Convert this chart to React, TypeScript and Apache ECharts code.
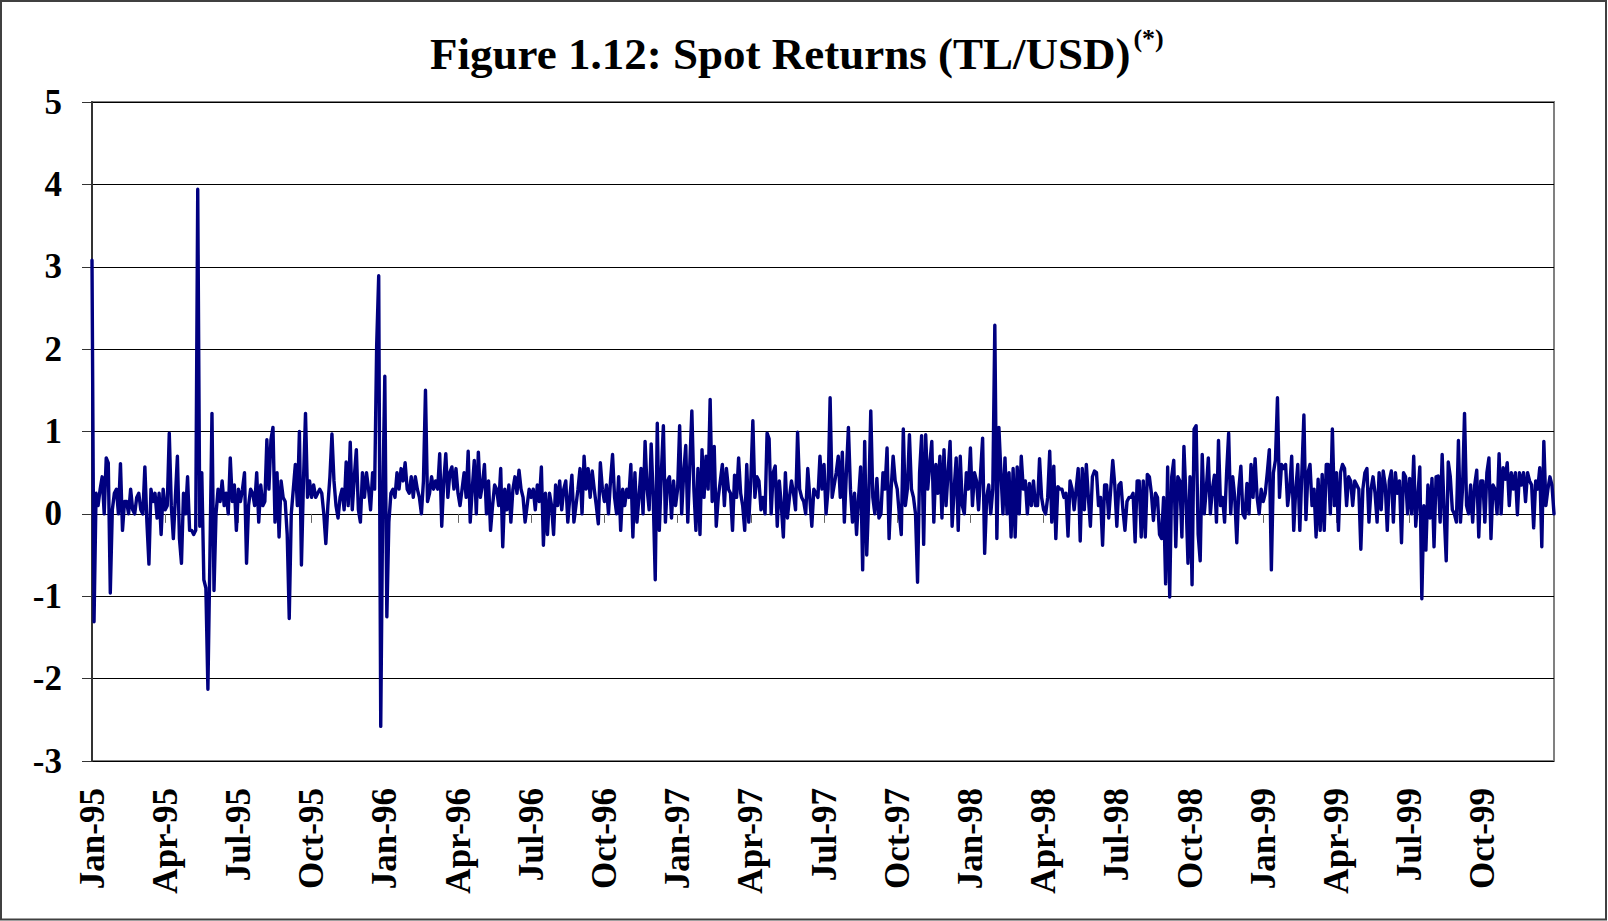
import React, { useEffect, useRef } from "react";
import * as echarts from "echarts";

const YEARS = [1995, 1996, 1997, 1998, 1999];
const MONTHS = ["Jan", "Feb", "Mar", "Apr", "May", "Jun", "Jul", "Aug", "Sep", "Oct", "Nov", "Dec"];
const POINTS_PER_MONTH = 12;

const R1995 = [
  3.08, -1.31, 0.25, 0.1, 0.3, 0.45, 0, 0.68, 0.62, -0.96, 0.05, 0.25,
  0.3, 0, 0.61, -0.2, 0.15, 0.15, 0, 0.3, 0.05, 0, 0.2, 0.25,
  0.05, 0, 0.57, -0.1, -0.61, 0.3, 0.15, 0.25, -0.05, 0.25, -0.25, 0.3,
  0.05, 0.1, 0.98, 0.1, -0.3, 0.2, 0.7, -0.3, -0.6, 0.25, 0, 0.45,
  -0.2, -0.2, -0.25, -0.2, 3.94, -0.15, 0.5, -0.8, -0.9, -2.13, -0.5, 1.22,
  -0.93, 0, 0.3, 0.15, 0.4, 0.1, 0.25, 0, 0.68, 0.15, 0.35, -0.2,
  0.3, 0.15, 0.3, 0.5, -0.6, 0.1, 0.3, 0.25, 0.1, 0.5, -0.1, 0.35,
  0.1, 0.15, 0.9, 0.3, 0.9, 1.05, -0.1, 0.5, -0.28, 0.4, 0.2, 0.15,
  -0.25, -1.27, 0, 0.3, 0.6, 0.1, 1.0, -0.62, 0.4, 1.22, 0.2, 0.4,
  0.2, 0.35, 0.2, 0.25, 0.3, 0.25, 0, -0.36, 0.1, 0.45, 0.97, 0.4,
  0.1, -0.05, 0.2, 0.3, 0.05, 0.63, 0.1, 0.87, 0.05, 0.45, 0.78, 0.05,
  -0.1, 0.5, 0.2, 0.5, 0.3, 0.05, 0.5, 0.3, 2.05, 2.89, -2.58, 0.2,
];

const R1996 = [
  1.67, -1.25, -0.1, 0.25, 0.3, 0.2, 0.5, 0.3, 0.55, 0.4, 0.62, 0.3,
  0.25, 0.45, 0.2, 0.45, 0.3, 0.2, 0, 0.4, 1.5, 0.15, 0.25, 0.45,
  0.3, 0.4, 0.3, 0.73, -0.15, 0.4, 0.73, 0.2, 0.5, 0.57, 0.3, 0.55,
  0.25, 0.1, 0.3, 0.5, 0.2, 0.76, -0.1, 0.3, 0.65, 0, 0.75, 0.2,
  0.35, 0.6, 0, 0.4, -0.2, 0.1, 0.35, 0.3, 0.1, 0.55, -0.4, 0.3,
  0.05, 0.35, -0.1, 0.3, 0.45, 0.25, 0.53, 0.3, 0.2, -0.1, 0.1, 0.3,
  0.2, 0.3, 0.05, 0.35, 0.15, 0.57, -0.38, 0.25, -0.25, 0.25, 0.1, -0.25,
  0.35, 0.1, 0.4, 0.05, 0.3, 0.4, -0.1, 0.2, 0.47, -0.1, 0.1, 0.3,
  0.55, 0, 0.7, 0.3, 0.55, 0.2, 0.52, 0.3, 0.1, -0.12, 0.62, 0.3,
  0.15, 0.35, 0, 0.4, 0.72, 0.2, 0, 0.45, -0.2, 0.3, 0.1, 0.3,
  0.2, 0.6, -0.28, 0.5, -0.1, 0.2, 0.55, 0, 0.88, 0.3, 0.05, 0.85,
  0.2, -0.8, 1.1, -0.2, 0.5, 1.07, -0.1, 0.4, 0.45, -0.05, 0.4, 0.1,
];

const R1997 = [
  0.3, 1.07, 0, 0.5, 0.83, -0.1, 0.6, 1.25, 0.3, -0.2, 0.55, -0.25,
  0.78, 0.2, 0.7, 0.3, 1.39, 0.15, 0.82, -0.15, 0.2, 0.4, 0.6, 0.1,
  0.55, 0.3, 0.25, -0.2, 0.47, 0.2, 0.68, 0.25, 0.1, -0.2, 0.6, -0.1,
  0.4, 1.13, 0.2, 0.45, 0.4, 0.05, 0.2, 0, 0.98, 0.91, 0, 0.5,
  0.58, -0.15, 0.4, 0.1, -0.28, 0.5, -0.05, 0.2, 0.4, 0.25, 0.05, 0.99,
  0.3, 0.2, 0.15, 0, 0.55, 0.2, -0.15, 0.3, 0.25, 0.2, 0.7, 0.3,
  0.6, 0, 0.3, 1.41, 0.2, 0.35, 0.5, 0.7, 0.2, 0.75, -0.1, 0.5,
  1.05, 0.3, -0.1, 0.25, -0.25, 0.2, 0.57, -0.68, 0.88, -0.5, 0.2, 1.25,
  0.2, 0, 0.43, -0.05, 0, 0.5, 0.3, 0.8, -0.3, 0.3, 0.7, 0.4,
  0.3, 0, -0.25, 1.03, 0.1, 0.3, 0.96, 0.3, 0.2, 0, -0.83, 0.5,
  0.95, -0.37, 0.96, 0.3, 0.6, 0.88, -0.1, 0.6, 0.25, 0.7, -0.05, 0.78,
  0.1, 0.5, 0.88, -0.15, 0.3, 0.68, -0.2, 0.7, 0.1, 0, 0.5, 0.3,
];

const R1998 = [
  0.8, 0.1, 0.5, 0.4, 0.05, 0.5, 0.92, -0.48, 0.2, 0.35, 0, 0.3,
  2.29, -0.3, 1.05, 0.5, 0, 0.68, 0, 0.5, -0.28, 0.55, -0.28, 0.57,
  0, 0.7, 0.3, 0.4, 0, 0.37, 0.1, 0.4, 0.1, 0.1, 0.67, 0.2,
  0.05, 0, 0.2, 0.76, -0.1, 0.58, -0.3, 0.33, 0.3, 0.3, 0.2, 0.25,
  -0.27, 0.4, 0.3, 0.05, 0.3, 0.55, -0.33, 0.55, 0.05, 0.6, 0.2, -0.15,
  0.45, 0.52, 0.5, 0.1, 0.2, -0.38, 0.35, 0.35, -0.05, 0.3, 0.65, 0.35,
  -0.15, 0.35, 0.38, 0.05, -0.2, 0.15, 0.2, 0.2, 0.25, -0.34, 0.4, 0.4,
  -0.28, 0.4, -0.28, 0.48, 0.45, 0.25, -0.08, 0.25, 0.2, -0.25, -0.3, 0.2,
  -0.85, 0.57, -1.01, 0.45, 0.65, -0.4, 0.45, 0.4, -0.28, 0.82, 0.2, -0.6,
  0.45, -0.86, 1.03, 1.07, -0.25, -0.57, 0.72, 0, 0.3, 0.68, 0, 0.3,
  0.47, -0.1, 0.89, 0.1, 0.2, -0.1, 0.5, 0.98, 0, 0.45, 0.2, -0.35,
  0.3, 0.58, 0, -0.05, 0.37, 0, 0.6, 0.2, 0.67, 0.2, 0, 0.3,
];

const R1999 = [
  0.15, 0.25, 0.5, 0.78, -0.68, 0.5, 0.65, 1.41, 0.2, 0.6, 0.55, 0.6,
  0.1, 0.3, 0.7, -0.2, 0.3, 0.6, -0.2, 0.5, 1.2, -0.07, 0.5, 0.6,
  0.1, 0.3, -0.28, 0.42, -0.2, 0.48, -0.2, 0.6, 0.6, 0, 1.03, 0.1,
  0.5, -0.2, 0.5, 0.6, 0.55, 0.1, 0.45, 0.4, 0.1, 0.4, 0.35, 0.3,
  -0.43, 0.3, 0.5, 0.55, -0.1, 0.3, 0.45, 0.25, -0.1, 0.5, 0.05, 0.52,
  0.35, -0.2, 0.4, 0.52, -0.1, 0.5, 0.25, 0.4, -0.35, 0.5, 0.45, 0,
  0.43, 0, 0.7, -0.15, 0.2, 0.57, -1.03, 0.1, -0.44, 0.35, -0.05, 0.43,
  -0.4, 0.45, 0.46, -0.1, 0.72, 0, -0.57, 0.63, 0.45, 0.05, 0, -0.1,
  0.89, -0.1, 0.3, 1.22, 0.1, 0, 0.35, -0.1, 0.35, 0.53, -0.28, 0.4,
  0.4, -0.1, 0.5, 0.68, -0.3, 0.35, 0.3, 0, 0.73, 0, 0.56, 0.42,
  0.62, 0.1, 0.5, 0.3, 0.5, -0.01, 0.5, 0.35, 0.5, 0.15, 0.5, 0.4,
  0.35, -0.17, 0.4, 0.3, 0.56, -0.4, 0.88, 0.1, 0.3, 0.45, 0.35, 0,
];

const Y_MIN = -3;
const Y_MAX = 5;
const Y_STEP = 1;
const TITLE = "Figure 1.12: Spot Returns (TL/USD)";
const TITLE_NOTE = "(*)";

const FONT = "'Liberation Serif', 'Times New Roman', Times, serif";

// category keys: year-month-slot
const CATEGORIES: string[] = [];
YEARS.forEach((y) => {
  MONTHS.forEach((_, m) => {
    for (let k = 0; k < POINTS_PER_MONTH; k++) CATEGORIES.push(`${y}-${m}-${k}`);
  });
});
const VALUES = [...R1995, ...R1996, ...R1997, ...R1998, ...R1999];

const QUARTER = POINTS_PER_MONTH * 3;
const isQuarterStart = (index: number) => index % QUARTER === 0;
const formatCat = (v: string) => {
  const [y, m] = v.split("-");
  return `${MONTHS[Number(m)]}-${y.slice(2)}`;
};

export default function App() {
  const ref = useRef<HTMLDivElement>(null);

  useEffect(() => {
    if (!ref.current) return;
    const chart = echarts.init(ref.current, undefined, { renderer: "svg" });

    const titleSize = 45;
    const noteSize = 26;
    const titleX = 430;
    let titleW = 700;
    const cv = document.createElement("canvas").getContext("2d");
    if (cv) {
      cv.font = `bold ${titleSize}px ${FONT}`;
      titleW = cv.measureText(TITLE).width;
    }

    chart.setOption({
      animation: false,
      backgroundColor: "#ffffff",
      graphic: [
        {
          type: "rect",
          silent: true,
          shape: { x: 1, y: 1, width: 1605, height: 918.5 },
          style: { fill: "none", stroke: "#404040", lineWidth: 2 },
        },
        {
          type: "text",
          x: titleX,
          y: 54,
          style: {
            text: TITLE,
            font: `bold ${titleSize}px ${FONT}`,
            fill: "#000",
            textAlign: "left",
            textVerticalAlign: "middle",
          },
        },
        {
          type: "text",
          x: titleX + titleW + 3,
          y: 38,
          style: {
            text: TITLE_NOTE,
            font: `bold ${noteSize}px ${FONT}`,
            fill: "#000",
            textAlign: "left",
            textVerticalAlign: "middle",
          },
        },
      ],
      grid: {
        left: 92,
        right: 54,
        top: 102,
        bottom: 160,
        show: true,
        borderColor: "#808080",
        borderWidth: 2,
        backgroundColor: "transparent",
      },
      xAxis: [
        {
          type: "category",
          data: CATEGORIES,
          boundaryGap: false,
          position: "bottom",
          axisLine: { show: false, onZero: false },
          axisTick: { show: false },
          splitLine: { show: false },
          axisLabel: {
            interval: (i: number) => isQuarterStart(i),
            rotate: 90,
            margin: 27,
            formatter: formatCat,
            fontFamily: FONT,
            fontWeight: "bold",
            fontSize: 35,
            color: "#000",
          },
        },
        {
          type: "category",
          data: CATEGORIES,
          boundaryGap: false,
          position: "bottom",
          axisLine: { show: true, onZero: true, lineStyle: { color: "#000", width: 1 } },
          axisTick: {
            show: true,
            interval: (i: number) => isQuarterStart(i),
            length: 9,
            lineStyle: { color: "#666", width: 1 },
          },
          axisLabel: { show: false },
          splitLine: { show: false },
        },
      ],
      yAxis: {
        type: "value",
        min: Y_MIN,
        max: Y_MAX,
        interval: Y_STEP,
        axisLine: { show: true, lineStyle: { color: "#333", width: 2 } },
        axisTick: { show: true, length: 10, lineStyle: { color: "#333", width: 1 } },
        axisLabel: {
          margin: 30,
          fontFamily: FONT,
          fontWeight: "bold",
          fontSize: 35,
          color: "#000",
        },
        splitLine: { show: true, lineStyle: { color: "#000", width: 1 } },
      },
      series: [
        {
          type: "line",
          data: VALUES,
          xAxisIndex: 0,
          yAxisIndex: 0,
          symbol: "none",
          showSymbol: false,
          silent: true,
          lineStyle: { color: "#000080", width: 3.4, join: "round", cap: "round" },
        },
      ],
    });

    return () => chart.dispose();
  }, []);

  return (
    <div
      ref={ref}
      style={{ position: "absolute", left: 0, top: 0, width: 1608, height: 921, background: "#fff" }}
    />
  );
}
